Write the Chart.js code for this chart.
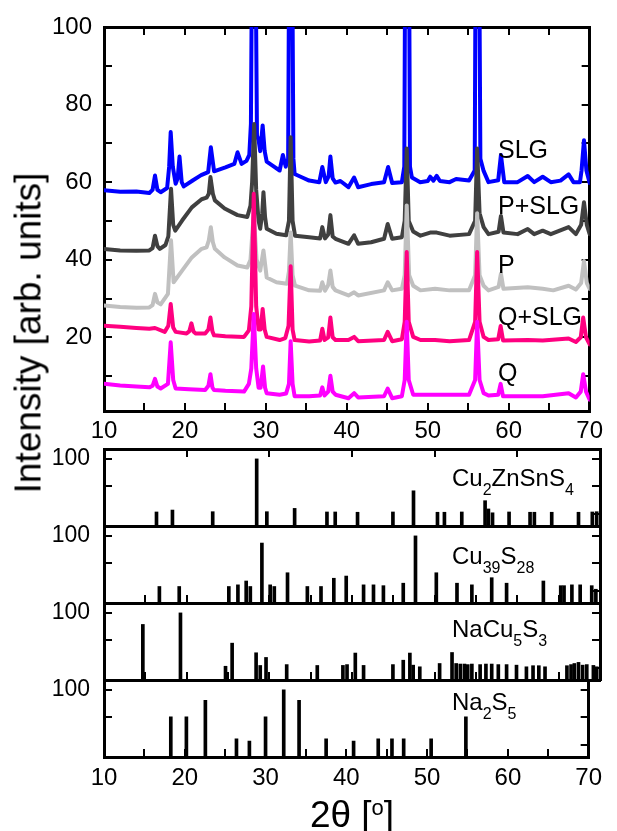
<!DOCTYPE html>
<html>
<head>
<meta charset="utf-8">
<script src="https://cdn.jsdelivr.net/npm/chart.js@4.4.1/dist/chart.umd.min.js"></script>
<style>
  body { margin: 0; background: #fff; }
  #fig { position: relative; width: 617px; height: 831px; overflow: hidden; font-family: Arial, "Liberation Sans", sans-serif; color: #000; }
  #fig canvas { position: absolute; left: 0; }
  .lbl { position: absolute; left: 498px; font-size: 25px; line-height: 1; white-space: nowrap; }
  .phase { position: absolute; left: 452px; font-size: 24px; line-height: 1; white-space: nowrap; }
  .phase sub { font-size: 16px; vertical-align: -9px; line-height: 0; }
  #ytitle { position: absolute; left: 28px; top: 333px; font-size: 37px; line-height: 1; white-space: nowrap; transform: translate(-50%, -50%) rotate(-90deg); }
  #xtitle { position: absolute; left: 352px; top: 796px; font-size: 37px; line-height: 1; white-space: nowrap; transform: translateX(-50%); }
  #xtitle sup { font-size: 22px; vertical-align: 12px; line-height: 0; }
</style>
</head>
<body>
<div id="fig">
  <canvas id="xrd" width="617" height="456" style="top:-9px"></canvas>
  <canvas id="ref1" width="617" height="157" style="top:409px"></canvas>
  <canvas id="ref2" width="617" height="157" style="top:486px"></canvas>
  <canvas id="ref3" width="617" height="157" style="top:563px"></canvas>
  <canvas id="ref4" width="617" height="157" style="top:640px"></canvas>

  <div class="lbl" style="top:137px">SLG</div>
  <div class="lbl" style="top:193px">P+SLG</div>
  <div class="lbl" style="top:252px">P</div>
  <div class="lbl" style="top:304px">Q+SLG</div>
  <div class="lbl" style="top:360px">Q</div>

  <div class="phase" style="top:466px">Cu<sub>2</sub>ZnSnS<sub>4</sub></div>
  <div class="phase" style="top:544px">Cu<sub>39</sub>S<sub>28</sub></div>
  <div class="phase" style="top:617px">NaCu<sub>5</sub>S<sub>3</sub></div>
  <div class="phase" style="top:690px">Na<sub>2</sub>S<sub>5</sub></div>

  <div id="ytitle">Intensity [arb. units]</div>
  <div id="xtitle">2θ [<sup>o</sup>]</div>
</div>

<script>
// axis ticks
const xTicks = [10, 15, 20, 25, 30, 35, 40, 45, 50, 55, 60, 65, 70];
const xLabels = [10, 20, 30, 40, 50, 60, 70];
const yTicks = [10, 20, 30, 40, 50, 60, 70, 80, 90, 100];
const yLabels = [20, 40, 60, 80, 100];
const refTopTicks = [20, 30, 40, 50, 60];
const refLeftTicks = [50, 100];
const refRightTicks = [0, 50, 100];
const refLabels = [100];
const panelMin = -22;
const panelMax = 118;

// measured patterns [2theta, intensity]
const slg = [[10,57.9],[12,57.5],[14,57.6],[15.6,57.2],[16.0,58],[16.3,61.7],[16.6,58],[17.0,57.4],[17.8,58.5],[18.05,64],[18.24,72.9],[18.5,64],[18.85,59.6],[19.1,61],[19.33,66.6],[19.6,60],[19.85,58.9],[21,60.5],[22,61.8],[22.87,62.6],[23.2,69.0],[23.6,62.8],[25,63.8],[26.1,64.7],[26.5,67.7],[27.0,64.7],[27.6,65.5],[27.95,67],[28.15,75],[28.35,140],[28.65,140],[28.9,72],[29.1,70.8],[29.3,68],[29.6,74.6],[29.85,68],[30.1,65.3],[31.0,64],[31.7,63.0],[32.1,67.0],[32.45,64],[32.75,66],[32.92,140],[33.2,140],[33.4,66],[33.55,62.1],[34.5,61.2],[35.35,60.4],[36.6,60],[36.97,63.9],[37.4,60],[37.75,61.5],[37.97,66.6],[38.25,61],[38.6,59.9],[39.2,60.3],[40.2,58.7],[40.9,61.2],[41.4,58.7],[43,59.5],[44.6,60],[45.1,63.9],[45.6,59.8],[46.8,60],[47.1,64],[47.25,140],[47.65,140],[47.8,64],[48.04,61.2],[49.06,60],[50.0,60.3],[50.3,61.4],[50.7,60.4],[51.1,61.6],[51.5,60.3],[52.7,60],[53.5,60.8],[55.1,60.4],[55.8,63],[55.95,140],[56.3,140],[56.5,66],[56.9,62.9],[57.5,60],[58.7,60.5],[59.04,67.0],[59.45,60],[61.1,60],[62.35,61.6],[63.15,60],[64.2,61.4],[65.2,60],[66.4,60.4],[67.4,62],[68.0,60],[68.8,60],[69.0,63],[69.3,70.8],[69.6,63],[70,59.8]];
const pSlg = [[10,42.8],[12,42.4],[14,42.3],[15.6,42.4],[16.0,43],[16.3,46.2],[16.6,43.5],[16.9,42.8],[17.6,43.8],[17.95,46],[18.28,58.3],[18.55,49],[18.8,47.5],[19.65,50.1],[20.85,53.5],[22.06,55.6],[22.67,56],[22.95,57],[23.15,61.3],[23.45,57],[23.7,55.3],[24.9,53.2],[26.5,51.5],[27.7,51],[28.1,54],[28.3,60],[28.55,75],[28.8,58],[29.1,50],[29.3,48],[29.55,52],[29.7,57.4],[29.9,51],[30.1,48],[31.3,46.7],[32.5,46.3],[32.85,50],[33.06,71.6],[33.3,50],[33.6,46.2],[35.35,45.8],[36.7,45.5],[36.97,48.4],[37.3,45.5],[37.7,46.5],[37.97,51.5],[38.25,46],[38.6,45.4],[40.2,44.1],[40.9,46.3],[41.4,44.1],[43,44.5],[44.6,45.4],[45.05,49.2],[45.6,45.4],[46.8,45.8],[47.15,50],[47.4,68.7],[47.65,50],[48.2,47.3],[49.1,46.2],[50.3,47.0],[51.1,47.0],[52.7,46.2],[55.1,46.6],[55.85,50],[56.1,68.7],[56.4,52],[56.9,48.4],[57.5,46.6],[58.75,47.2],[59.04,51.3],[59.35,47],[61.1,46.6],[62.35,47.9],[63.15,46.6],[64.2,47.5],[65.2,46.6],[67.4,48.4],[68.3,46.6],[68.95,49],[69.3,54.8],[69.65,49],[70,46.6]];
const p = [[10,28.2],[12,27.8],[14,27.6],[15.6,27.7],[16.0,28.3],[16.3,31.2],[16.6,29],[17.0,28.5],[17.9,31.2],[18.28,45.0],[18.6,34.2],[19.65,37.2],[20.85,40.6],[22.06,42.8],[22.67,43.2],[22.95,45],[23.2,48.4],[23.45,44.5],[23.7,42.8],[24.9,40.6],[26.5,38.5],[27.7,38.0],[28.1,40],[28.5,52],[28.85,40],[29.3,37.2],[29.7,42.4],[30.1,35.4],[31.3,34.2],[32.6,33.8],[32.85,37],[33.06,47],[33.3,36],[33.6,33.3],[35.35,32.1],[36.7,32],[36.97,34.2],[37.3,32],[37.7,33.5],[37.97,37.2],[38.25,33],[38.6,32.1],[40.2,30.8],[40.9,31.6],[41.4,30.8],[44.6,32.1],[45.05,34.2],[45.6,32.1],[46.8,32.5],[47.15,36],[47.4,54],[47.7,36],[48.2,33.3],[49.1,32.1],[50.9,32.5],[52.7,32.1],[55.1,32.1],[55.85,36],[56.1,52],[56.4,36],[56.9,33.3],[57.5,32.1],[58.75,33],[59.04,36.4],[59.35,32.5],[62.35,32.9],[64.2,32.5],[65.5,32.1],[67.4,33.3],[68.3,32.3],[68.95,34],[69.3,39.7],[69.65,34],[70,32.5]];
const qSlg = [[10,23.0],[12,22.7],[14,22.4],[15.6,22.2],[16.3,22.4],[17.5,21.4],[17.95,23],[18.24,28.6],[18.55,22.5],[18.85,21.4],[20.2,21.0],[20.55,21.6],[20.8,23.6],[21.05,21.5],[21.3,21.0],[22.5,21.0],[22.9,22],[23.15,25.1],[23.4,21.5],[23.6,20.5],[25,20.3],[27.3,20.1],[27.9,21.8],[28.2,28],[28.5,57],[28.8,28],[29.1,22],[29.35,22],[29.6,27.3],[29.85,22],[30.1,20.1],[31.7,19.3],[32.4,19.8],[32.8,23],[33.06,38.3],[33.3,22],[33.55,19.3],[35.35,18.9],[36.7,19.2],[36.97,22.2],[37.25,19.3],[37.7,20],[37.97,25.1],[38.25,20],[38.6,19.3],[40.2,19.3],[40.9,20.1],[41.4,19.0],[44.6,19.3],[45.05,21.4],[45.6,19.0],[46.8,19.5],[47.15,24],[47.4,42],[47.65,24],[48.2,20.1],[49.1,19.3],[50.9,19.3],[52.7,19.0],[55.1,19.3],[55.85,24],[56.1,42],[56.4,24],[56.9,20.1],[57.5,19.3],[58.7,19.5],[59.0,22.9],[59.3,19.2],[62.35,19.3],[64.2,19.2],[67.4,19.7],[68.3,18.8],[68.9,20],[69.2,25.1],[69.55,20],[70,18.2]];
const q = [[10,8.0],[12,7.6],[14,7.3],[15.6,7.1],[16.0,7.5],[16.3,9.3],[16.6,7.3],[17.0,6.8],[17.9,8],[18.24,18.7],[18.55,9],[18.85,6.8],[20.5,6.6],[22.5,6.4],[22.9,7.5],[23.15,10.5],[23.4,7],[23.6,6.4],[25,6.2],[27.3,6.0],[27.9,8.0],[28.2,12],[28.5,26],[28.8,12],[29.1,7],[29.35,7],[29.65,12.5],[29.9,7],[30.1,5.6],[31.7,5.2],[32.5,5.5],[32.85,8],[33.06,19],[33.3,8],[33.55,4.8],[35.35,4.8],[36.7,5],[36.97,7.1],[37.25,5],[37.7,6],[37.97,10.1],[38.25,6],[38.6,5.2],[40.2,4.3],[40.9,5.6],[41.4,4.5],[44.6,4.8],[45.05,6.8],[45.6,4.3],[46.8,4.8],[47.15,9],[47.4,24],[47.65,9],[48.2,5.2],[50.9,5.2],[55.1,5.2],[55.85,9],[56.1,24],[56.4,9],[56.9,5.6],[57.5,5.0],[58.7,5.2],[59.0,8.0],[59.3,4.8],[62.35,4.8],[64.2,4.8],[67.4,5.6],[68.3,4.5],[68.9,6],[69.2,10.5],[69.55,6],[70,3.9]];

// reference stick patterns [2theta, relative intensity]
const czts = [[16.35,3.5],[18.28,7],[23.15,4],[28.47,100],[29.7,4],[33.06,10],[36.97,3.5],[37.97,3.5],[40.67,3],[44.95,3.5],[47.44,42],[50.34,3],[51.18,3],[53.28,3.5],[56.1,24],[56.5,9],[57.0,2],[59.0,3.5],[61.54,3],[62.06,3],[64.16,3],[67.4,3],[69.07,3.5],[69.6,4]];
const cu39s28 = [[16.7,8],[19.1,8],[25.1,8],[26.2,11],[27.2,18],[27.7,8],[29.1,87],[30.1,11],[30.6,8],[32.2,33],[34.6,8],[36.25,8],[37.8,23],[39.3,27],[41.4,11],[42.6,11],[43.8,9.5],[46.2,14],[47.68,100],[50.2,33],[52.7,14],[54.5,11],[56.9,24],[58.7,14],[63.15,18],[65.25,9.5],[65.65,9.5],[66.6,11],[67.6,11],[69.0,9.5],[69.5,3]];
const nacu5s3 = [[14.7,79],[19.25,100],[24.7,3],[25.5,45],[28.4,27.5],[28.9,4.4],[29.6,19],[32.1,6],[35.8,4.4],[38.9,4.5],[39.4,6],[40.4,27],[41.4,4.5],[44.95,6],[46.2,14],[47.0,27],[47.4,5],[48.2,2],[50.6,8],[52.1,28],[52.6,8],[53.1,7],[53.6,7],[54.0,6],[54.5,7],[55.5,6],[56.2,7],[56.9,7],[57.7,6],[58.7,6],[59.9,5],[61.1,2],[61.9,4],[62.6,4],[63.35,2],[66.0,4],[66.5,6],[66.9,8],[67.4,10],[67.9,5],[68.4,6],[69.2,4.5],[69.6,2]];
const na2s5 = [[18.27,51],[20.2,51],[22.55,81],[26.4,11],[28.0,7],[30.0,51],[32.25,100],[34.15,81],[37.5,11],[40.9,7],[43.95,11],[45.65,11],[47.1,11],[50.5,11],[54.8,51]];

Chart.defaults.font.family = 'Arial, "Liberation Sans", sans-serif';
Chart.defaults.color = '#000';

function axis(o) {
  const tv = o.ticks.length ? o.ticks : [o.min];
  return {
    type: 'linear',
    position: o.pos,
    min: o.min,
    max: o.max,
    offset: false,
    border: { display: true, width: 3, color: '#000' },
    grid: { display: o.ticks.length > 0, offset: false, drawOnChartArea: false, drawTicks: true, tickLength: -8, color: '#000', lineWidth: 2 },
    ticks: {
      display: !!o.labels,
      color: '#000',
      font: { size: o.fontSize || 24 },
      padding: o.pad || 0,
      autoSkip: false,
      maxRotation: 0,
      callback: v => (o.labels && o.labels.includes(v) ? String(v) : '')
    },
    afterBuildTicks: s => { s.ticks = tv.map(v => ({ value: v })); },
    afterFit: s => { if (s.isHorizontal()) s.height = o.size; else s.width = o.size; }
  };
}

function curve(label, pts, color) {
  return {
    label,
    data: pts.map(([x, y]) => ({ x, y })),
    borderColor: color,
    borderWidth: 4,
    pointRadius: 0,
    borderJoinStyle: 'round',
    borderCapStyle: 'round',
    tension: 0,
    clip: 0
  };
}

// measured patterns; first dataset is drawn on top
new Chart(document.getElementById('xrd'), {
  type: 'line',
  data: {
    datasets: [
      curve('Q', q, '#ff00ff'),
      curve('Q+SLG', qSlg, '#ff0080'),
      curve('P', p, '#c0c0c0'),
      curve('P+SLG', pSlg, '#404040'),
      curve('SLG', slg, '#0000ff')
    ]
  },
  options: {
    responsive: false,
    animation: false,
    events: [],
    layout: { padding: { top: 36, right: 17, bottom: 0, left: 0 } },
    plugins: { legend: { display: false }, tooltip: { enabled: false } },
    scales: {
      x: axis({ pos: 'bottom', min: 10, max: 70, ticks: xTicks, labels: xLabels, size: 36, pad: 14 }),
      xTop: axis({ pos: 'top', min: 10, max: 70, ticks: xTicks, size: 0 }),
      y: axis({ pos: 'left', min: 1, max: 100, ticks: yTicks, labels: yLabels, size: 104, pad: 20 }),
      yRight: axis({ pos: 'right', min: 1, max: 100, ticks: yTicks, size: 0 })
    }
  }
});

function panel(id, bars, opt) {
  new Chart(document.getElementById(id), {
    type: 'bar',
    data: {
      datasets: [{
        data: bars.map(([x, y]) => ({ x, y })),
        backgroundColor: '#000',
        barThickness: 3,
        base: panelMin
      }]
    },
    options: {
      responsive: false,
      animation: false,
      events: [],
      layout: { padding: { top: 40, right: 17, bottom: opt.last ? 0 : 40, left: 0 } },
      plugins: { legend: { display: false }, tooltip: { enabled: false } },
      scales: {
        x: axis({ pos: 'bottom', min: 10, max: 70, ticks: opt.bottomTicks, labels: opt.last ? xLabels : null, size: opt.last ? 40 : 0, pad: 15 }),
        xTop: axis({ pos: 'top', min: 10, max: 70, ticks: opt.topTicks, size: 0 }),
        y: axis({ pos: 'left', min: panelMin, max: panelMax, ticks: refLeftTicks, labels: refLabels, size: 104, pad: 22, fontSize: 23 }),
        yRight: axis({ pos: 'right', min: panelMin, max: panelMax, ticks: refRightTicks, size: 0 })
      }
    }
  });
}

panel('ref1', czts, { topTicks: refTopTicks, bottomTicks: [] });
panel('ref2', cu39s28, { topTicks: [], bottomTicks: xTicks });
panel('ref3', nacu5s3, { topTicks: [], bottomTicks: xTicks });
panel('ref4', na2s5, { topTicks: [], bottomTicks: xTicks, last: true });
</script>
</body>
</html>
